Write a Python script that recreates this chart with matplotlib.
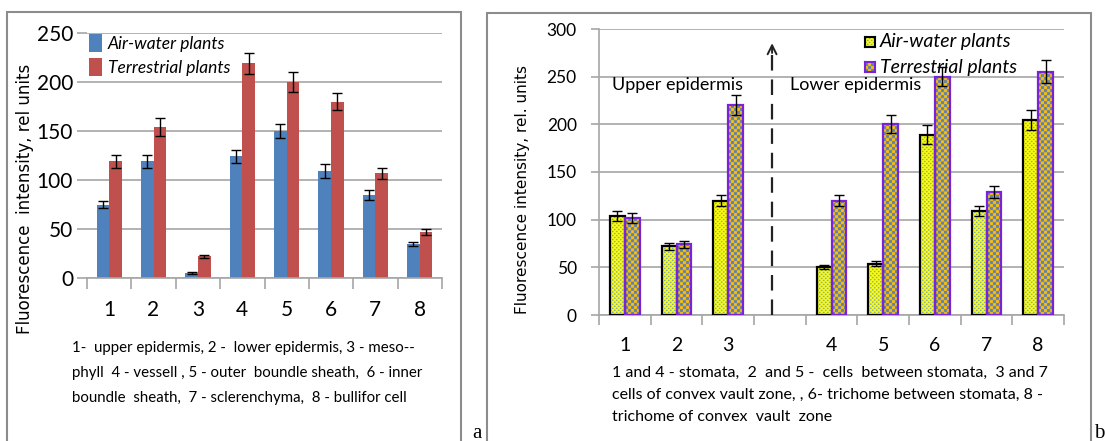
import numpy as np
import matplotlib.pyplot as plt
from matplotlib.patches import Rectangle
from matplotlib.colors import to_rgb

W, H = 1105, 441

# ---------------- panel a ----------------
cats_a = ['1', '2', '3', '4', '5', '6', '7', '8']
air_a = [75, 119, 5, 124, 150, 109, 85, 35]
air_a_err = [4, 7, 1, 6.5, 7, 7, 5, 2]
ter_a = [119, 154, 22, 219, 200, 180, 107, 47]
ter_a_err = [7, 9, 1.5, 11, 10, 9, 5.5, 3]

# ---------------- panel b ----------------
cats_b = ['1', '2', '3', '4', '5', '6', '7', '8']
pos_b = [0, 1, 2, 4, 5, 6, 7, 8]
air_b = [104, 72, 120, 50, 54, 189, 109, 205]
air_b_err = [5, 3.5, 5.5, 2, 2.7, 10, 5.5, 10.5]
ter_b = [102, 74, 220, 120, 200, 250, 129, 255]
ter_b_err = [5, 3.5, 10.5, 6, 9.5, 10, 6.3, 12]

BLUE = '#4F81BD'
RED = '#C0504D'
GRID = '#A6A6A6'
PURPLE = '#7A22D8'
CAL = ['Lato', 'DejaVu Sans']
OS = 4  # oversampling of the fill patterns (array cells per screen pixel)


def fx(px):
    return px / W


def fy(py):
    return 1 - py / H


def pattern(kind, nx, ny):
    # nx, ny in screen pixels; pattern built at OS x resolution
    r, c = np.mgrid[0:ny * OS, 0:nx * OS] / OS
    if kind == 'check':
        mask = ((r // 3) + (c // 3)) % 2 == 0
        a, b = '#FFC000', '#5B7FB8'
    else:
        rr, cc = r % 4, c % 4
        mask = ((rr < 1.25) & (cc < 1.5)) | ((rr >= 2) & (rr < 3.25) & (cc >= 2) & (cc < 3.5))
        a, b = '#FFFF00', '#6E9AC8'
    return np.where(mask[..., None], np.array(to_rgb(b)), np.array(to_rgb(a)))


def fill_bars(ax, bars, kind):
    for b in bars:
        x0, y0 = b.get_x(), b.get_y()
        x1, y1 = x0 + b.get_width(), y0 + b.get_height()
        (px0, py0), (px1, py1) = ax.transData.transform([(x0, y0), (x1, y1)])
        nx = max(int(round(px1 - px0)), 1)
        ny = max(int(round(py1 - py0)), 1)
        im = ax.imshow(pattern(kind, nx, ny), extent=(x0, x1, y0, y1), origin='lower',
                       aspect='auto', interpolation='hanning', interpolation_stage='rgba',
                       zorder=2)
        im.set_clip_path(b)


fig = plt.figure(figsize=(W / 100, H / 100), dpi=100)

# panel frames
fig.patches.append(Rectangle((fx(7), fy(445)), fx(461) - fx(7), fy(12) - fy(445),
                             transform=fig.transFigure, fill=False, ec='#8C8C8C', lw=1.5))
fig.patches.append(Rectangle((fx(487), fy(445)), fx(1091) - fx(487), fy(13) - fy(445),
                             transform=fig.transFigure, fill=False, ec='#8C8C8C', lw=1.5))

# ================= chart a =================
axa = fig.add_axes([fx(87), fy(278), fx(442) - fx(87), fy(33) - fy(278)])
xa = np.arange(len(cats_a))
w = 0.285
ba1 = axa.bar(xa - w / 2, air_a, w, color=BLUE, zorder=2, label='Air-water plants')
ba2 = axa.bar(xa + w / 2, ter_a, w, color=RED, zorder=2, label='Terrestrial plants')
axa.errorbar(xa - w / 2, air_a, yerr=air_a_err, fmt='none', ecolor='black', elinewidth=1,
             capsize=3.5, capthick=1, zorder=4)
axa.errorbar(xa + w / 2, ter_a, yerr=ter_a_err, fmt='none', ecolor='black', elinewidth=1,
             capsize=3.5, capthick=1, zorder=4)
axa.set_xlim(-0.5, len(cats_a) - 0.5)
axa.set_ylim(0, 250)
axa.set_yticks(np.arange(0, 251, 50))
axa.set_xticks(xa)
axa.set_xticklabels(cats_a, fontfamily=CAL, fontsize=15)
axa.set_xticks(np.arange(-0.5, len(cats_a)), minor=True)
axa.tick_params(axis='x', which='major', length=0, pad=16)
axa.tick_params(axis='x', which='minor', length=8, color=GRID, width=1.2)
axa.tick_params(axis='y', length=7, color=GRID, width=1.2, pad=3)
for lab in axa.get_yticklabels():
    lab.set_fontfamily(CAL)
    lab.set_fontsize(15)
axa.yaxis.grid(True, color=GRID, lw=1.2)
axa.set_axisbelow(True)
for s in ['top', 'right', 'left']:
    axa.spines[s].set_visible(False)
axa.spines['bottom'].set_color(GRID)
axa.spines['bottom'].set_linewidth(1.2)
axa.legend(handles=[ba1, ba2], loc='upper left', bbox_to_anchor=(-0.005, 1.01), frameon=False,
           prop={'family': CAL, 'style': 'italic', 'size': 12.5}, handlelength=0.75,
           handleheight=1.2, handletextpad=0.35, labelspacing=0.35, borderaxespad=0, borderpad=0.2)
fig.text(fx(25), fy(199), 'Fluorescence  intensity, rel units', rotation=90, ha='center',
         va='center', fontsize=12, color='black')
cap_a = ['1-  upper epidermis, 2 -  lower epidermis, 3 - meso--',
         'phyll  4 - vessell , 5 - outer  boundle sheath,  6 - inner',
         'boundle  sheath,  7 - sclerenchyma,  8 - bullifor cell']
for i, line in enumerate(cap_a):
    fig.text(fx(72), fy(348 + 25 * i), line, ha='left', va='center', fontfamily=CAL, fontsize=10.8)
fig.text(fx(477), fy(438), 'a', ha='center', va='baseline', fontfamily='Liberation Serif', fontsize=15)

# ================= chart b =================
axb = fig.add_axes([fx(599), fy(315), fx(1064) - fx(599), fy(29) - fy(315)])
xb = np.array(pos_b, dtype=float)
axb.set_xlim(-0.5, 8.5)
axb.set_ylim(0, 300)
bb1 = axb.bar(xb - w / 2, air_b, w, facecolor='none', edgecolor='black', lw=1.6, zorder=3)
bb2 = axb.bar(xb + w / 2, ter_b, w, facecolor='none', edgecolor=PURPLE, lw=1.6, zorder=3)
fill_bars(axb, bb1, 'dots')
fill_bars(axb, bb2, 'check')
axb.errorbar(xb - w / 2, air_b, yerr=air_b_err, fmt='none', ecolor='black', elinewidth=1,
             capsize=3.5, capthick=1, zorder=4)
axb.errorbar(xb + w / 2, ter_b, yerr=ter_b_err, fmt='none', ecolor='black', elinewidth=1,
             capsize=3.5, capthick=1, zorder=4)
axb.set_xlim(-0.5, 8.5)
axb.set_ylim(0, 300)
axb.set_yticks(np.arange(0, 301, 50))
axb.set_xticks(xb)
axb.set_xticklabels(cats_b, fontfamily=CAL, fontsize=14)
axb.set_xticks(np.arange(-0.5, 9), minor=True)
axb.tick_params(axis='x', which='major', length=0, pad=16)
axb.tick_params(axis='x', which='minor', length=7, color=GRID, width=1.2)
axb.tick_params(axis='y', length=6, color=GRID, width=1.2, pad=10)
for lab in axb.get_yticklabels():
    lab.set_fontfamily(CAL)
    lab.set_fontsize(12.5)
axb.yaxis.grid(True, color=GRID, lw=1.2)
axb.set_axisbelow(True)
for s in ['top', 'right']:
    axb.spines[s].set_visible(False)
for s in ['bottom', 'left']:
    axb.spines[s].set_color(GRID)
    axb.spines[s].set_linewidth(1.2)

# divider arrow between upper and lower epidermis
xarr = 2.85
axb.plot([xarr, xarr], [0, 280], color='#222222', lw=1.6, ls=(0, (7, 4)), zorder=3)
axb.annotate('', xy=(xarr, 288), xytext=(xarr, 272),
             arrowprops=dict(arrowstyle='->', color='#222222', lw=1.4, mutation_scale=16))
axb.text(-0.25, 241, 'Upper epidermis', ha='left', va='center', fontfamily=CAL, fontsize=13)
axb.text(3.19, 241, 'Lower epidermis', ha='left', va='center', fontfamily=CAL, fontsize=13)

# legend (drawn by hand so the fills match the bars)
for py, kind, edge, label in [(37, 'dots', 'black', 'Air-water plants'),
                              (62, 'check', PURPLE, 'Terrestrial plants')]:
    axl = fig.add_axes([fx(865), fy(py + 10), fx(875) - fx(865), fy(py) - fy(py + 10)])
    axl.imshow(pattern(kind, 10, 10), origin='lower', interpolation='hanning',
               interpolation_stage='rgba', aspect='auto')
    axl.set_xticks([])
    axl.set_yticks([])
    for s in axl.spines.values():
        s.set_color(edge)
        s.set_linewidth(1.5)
    fig.text(fx(880), fy(py + 5), label, ha='left', va='center', fontfamily=CAL,
             style='italic', fontsize=14)

fig.text(fx(523), fy(190), 'Fluorescence intensity, rel. units', rotation=90, ha='center',
         va='center', fontsize=11, color='black')
cap_b = ['1 and 4 - stomata,  2  and 5 -  cells  between stomata,  3 and 7',
         'cells of convex vault zone, , 6- trichome between stomata, 8 -',
         'trichome of convex  vault  zone']
for i, line in enumerate(cap_b):
    fig.text(fx(612), fy(373 + 22 * i), line, ha='left', va='center', fontfamily=CAL, fontsize=11.5)
fig.text(fx(1099), fy(438), 'b', ha='center', va='baseline', fontfamily='Liberation Serif', fontsize=15)

fig.savefig('out.png', dpi=100)
